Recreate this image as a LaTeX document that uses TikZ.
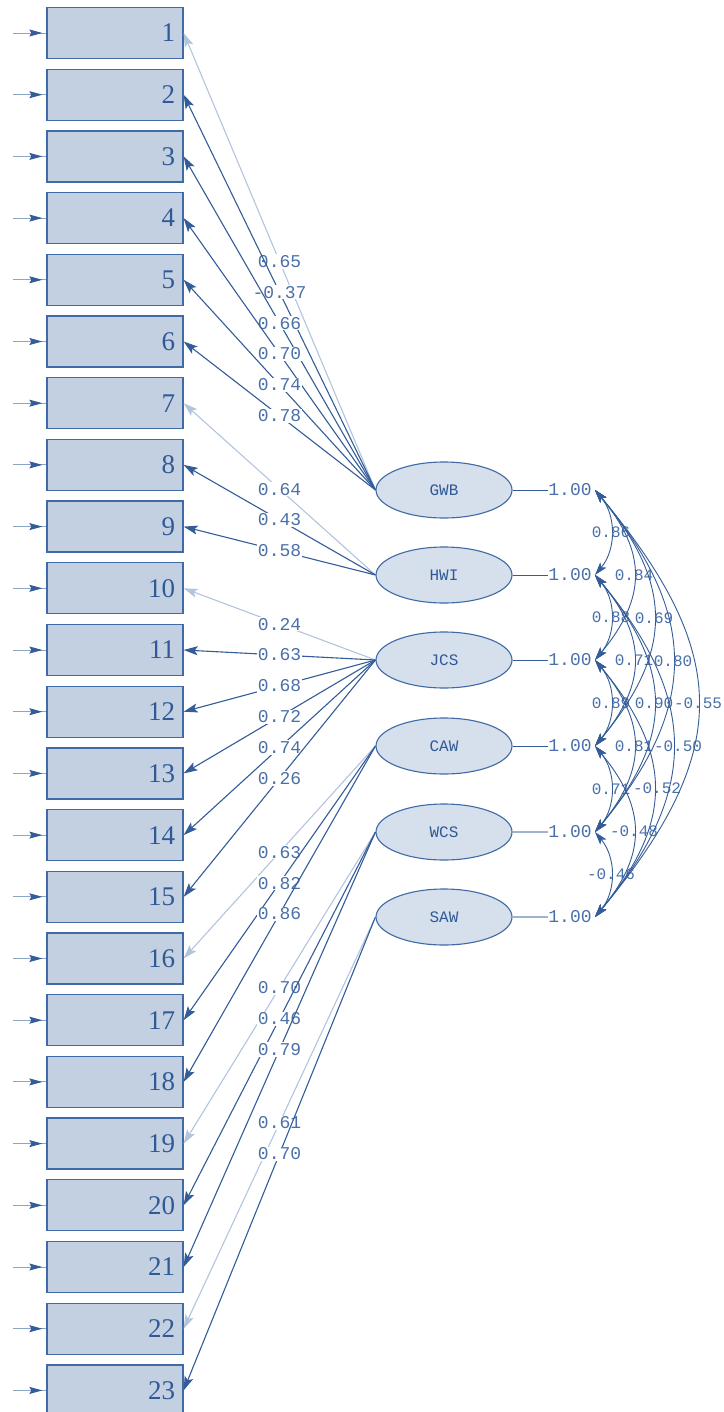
\documentclass[tikz,border=0pt]{standalone}
\usepackage{fontspec}
\setmainfont{Liberation Serif}
\newfontfamily\monof{Liberation Mono}
\usetikzlibrary{shapes.geometric,arrows.meta,calc,decorations.markings}
\definecolor{ln}{HTML}{335C98}
\definecolor{lnlight}{HTML}{B3C5DD}
\definecolor{lnmid}{HTML}{9DB3D1}
\definecolor{boxfill}{HTML}{C3D0E2}
\definecolor{boxdraw}{HTML}{3F6AA6}
\definecolor{ellfill}{HTML}{D6DFEC}
\definecolor{digcol}{HTML}{2F5A96}
\definecolor{lbltext}{HTML}{4A70A8}
\tikzset{
  obsbox/.style={draw=boxdraw, fill=boxfill, line width=1.3pt, minimum width=136pt,
    minimum height=51pt, inner sep=0pt, text width=120pt, align=right,
    font=\fontsize{27}{27}\selectfont, text=digcol},
  fac/.style={ellipse, draw=boxdraw, fill=ellfill, line width=1.1pt, minimum width=136pt,
    minimum height=56pt, inner sep=0pt, font=\monof\fontsize{16}{16}\selectfont, text=digcol},
  lbl/.style={inner sep=0pt, font=\monof\fontsize{18}{18}\selectfont, text=lbltext},
  lbls/.style={inner sep=0pt, font=\monof\fontsize{16}{16}\selectfont, text=lbltext},
  lblw/.style={lbl, fill=white, inner sep=1pt},
  ldd/.style={draw=ln, line width=1.1pt, -{Stealth[length=14pt,width=9pt,inset=3pt]}},
  ldl/.style={draw=lnlight, line width=1.1pt, -{Stealth[length=14pt,width=9pt,inset=3pt]}},
  errline/.style={draw=ln!55, line width=0.9pt,
    decoration={markings, mark=at position 0.88 with {\arrow[ln]{Stealth[length=13pt,width=7pt,inset=2pt]}}},
    postaction={decorate}},
  corr/.style={draw=ln, line width=0.9pt,
    {Stealth[length=13pt,width=8pt,inset=3pt]}-{Stealth[length=13pt,width=8pt,inset=3pt]}},
  unitd/.style={draw=ln, line width=1pt},
  unitl/.style={draw=lnmid, line width=2.6pt}
}
\begin{document}
\begin{tikzpicture}[x=1pt,y=-1pt]
\useasboundingbox[fill=white] (0,0) rectangle (723,1412);

% observed variables
\foreach \k in {1,...,23}{
  \pgfmathsetmacro\yy{33+61.7*(\k-1)}
  \node[obsbox] (b\k) at (115,\yy) {\k};
  \coordinate (e\k) at (13,\yy);
  \draw[errline] (e\k) -- (b\k.west);
}

% latent factors
\foreach \n/\yy in {GWB/490,HWI/575,JCS/660,CAW/746,WCS/832,SAW/917}{
  \node[fac] (\n) at (444,\yy) {\n};
  \node[lbl] (o\n) at (570,\yy) {1.00};
  \coordinate (a\n) at (595,\yy);
}
\foreach \n in {GWB,HWI,JCS,CAW}{ \draw[unitd] (\n.east) -- (o\n.west); }
\foreach \n in {WCS,SAW}{ \draw[unitl] (\n.east) -- (o\n.west); }

% loadings
\foreach \k/\f/\v/\s in {
  1/GWB/0.65/ldl, 2/GWB/-0.37/ldd, 3/GWB/0.66/ldd, 4/GWB/0.70/ldd, 5/GWB/0.74/ldd, 6/GWB/0.78/ldd,
  7/HWI/0.64/ldl, 8/HWI/0.43/ldd, 9/HWI/0.58/ldd,
  10/JCS/0.24/ldl, 11/JCS/0.63/ldd, 12/JCS/0.68/ldd, 13/JCS/0.72/ldd, 14/JCS/0.74/ldd, 15/JCS/0.26/ldd,
  16/CAW/0.63/ldl, 17/CAW/0.82/ldd, 18/CAW/0.86/ldd,
  19/WCS/0.70/ldl, 20/WCS/0.46/ldd, 21/WCS/0.79/ldd,
  22/SAW/0.61/ldl, 23/SAW/0.70/ldd}{
  \draw[\s] (\f.west) -- node[lblw, pos=0.5]{\v} (b\k.east);
}

% factor correlations
\foreach \i/\j/\v/\p/\sh in {
  GWB/HWI/0.86/611/0, HWI/JCS/0.88/611/0, JCS/CAW/0.89/611/0, CAW/WCS/0.71/611/0, WCS/SAW/-0.46/611/0,
  GWB/JCS/0.84/634/0, HWI/CAW/0.71/634/0, JCS/WCS/0.81/634/0, CAW/SAW/-0.48/634/0,
  GWB/CAW/0.69/654/0, HWI/WCS/0.90/654/0, JCS/SAW/-0.52/654/3,
  GWB/WCS/0.80/673/0, HWI/SAW/-0.50/673/5,
  GWB/SAW/-0.55/698/0}{
  \pgfmathsetmacro\dd{(\p-595)/0.75}
  \pgfmathsetmacro\ee{1.2*\dd}
  \draw[corr] (a\i) .. controls ($(a\i)+(\dd,\ee)$) and ($(a\j)+(\dd,-\ee)$) .. (a\j)
    node[lbls, pos=0.5, xshift=\sh pt]{\v};
}
\end{tikzpicture}
\end{document}
